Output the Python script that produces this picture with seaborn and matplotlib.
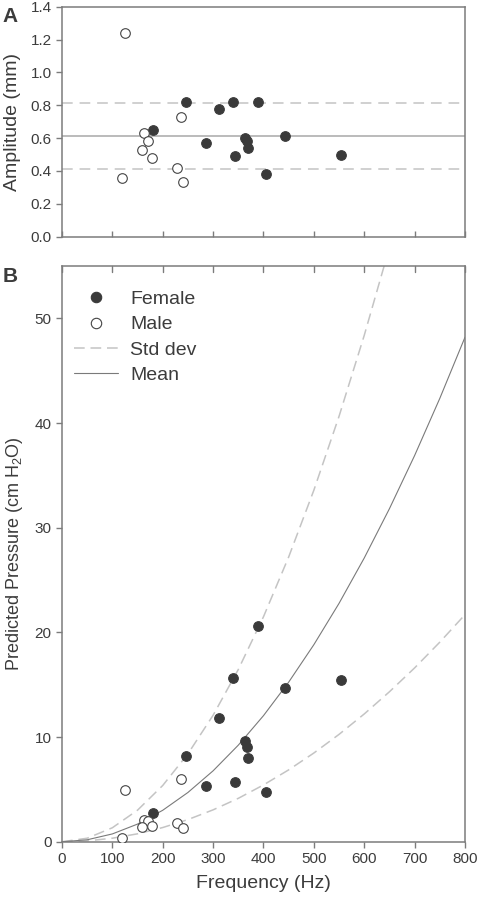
import numpy as np
import pandas as pd
import matplotlib
matplotlib.use("Agg")
import matplotlib.pyplot as plt
from matplotlib.lines import Line2D
import seaborn as sns

# ---------------- data ----------------
freq_female = [181, 247, 286, 311, 340, 344, 364, 367, 370, 390, 404, 443, 554]
amp_female = [0.65, 0.82, 0.57, 0.78, 0.82, 0.49, 0.60, 0.58, 0.54, 0.82, 0.38, 0.61, 0.50]
press_female = [2.74, 8.22, 5.32, 11.85, 15.6, 5.74, 9.6, 9.08, 8.03, 20.65, 4.72, 14.7, 15.5]

freq_male = [125, 120, 162, 171, 159.5, 179, 236, 229, 241]
amp_male = [1.24, 0.36, 0.63, 0.58, 0.53, 0.48, 0.73, 0.42, 0.33]
press_male = [4.9, 0.35, 2.07, 1.94, 1.43, 1.46, 5.96, 1.82, 1.27]

amp_mean = 0.61
amp_sd_low = 0.41
amp_sd_high = 0.815

curve_freq = [0, 50, 100, 150, 200, 250, 300, 350, 400, 450, 500, 550, 600, 650, 700, 750, 800]
curve_mean = [0, 0.19, 0.75, 1.69, 3.01, 4.71, 6.78, 9.23, 12.05, 15.25, 18.83, 22.78, 27.11, 31.82, 36.90, 42.36, 48.2]
curve_upper = [0, 0.34, 1.34, 3.02, 5.38, 8.40, 12.09, 16.46, 21.5, 27.21, 33.59, 40.65, 48.38, 56.77, 65.84, 75.58, 86.0]
curve_lower = [0, 0.085, 0.34, 0.76, 1.36, 2.12, 3.05, 4.15, 5.43, 6.87, 8.48, 10.26, 12.21, 14.33, 16.61, 19.07, 21.7]

x_ticks = [0, 100, 200, 300, 400, 500, 600, 700, 800]
amp_ticks = [0.0, 0.2, 0.4, 0.6, 0.8, 1.0, 1.2, 1.4]
press_ticks = [0, 10, 20, 30, 40, 50]

# ---------------- style ----------------
sns.set_style("ticks")
plt.rcParams['font.family'] = ['Liberation Sans', 'DejaVu Sans']
plt.rcParams['mathtext.fontset'] = 'custom'
plt.rcParams['mathtext.rm'] = 'Liberation Sans'

TXT = '#3c3c3c'
SPINE = '#7c7c7c'
FEM = '#3a3a3a'
SD_COL = '#c4c4c4'
MEAN_TOP = '#a8a8a8'
MEAN_BOT = '#7a7a7a'

df_f = pd.DataFrame({'freq': freq_female, 'amp': amp_female, 'press': press_female})
df_m = pd.DataFrame({'freq': freq_male, 'amp': amp_male, 'press': press_male})
df_c = pd.DataFrame({'freq': curve_freq, 'mean': curve_mean, 'upper': curve_upper, 'lower': curve_lower})

fig = plt.figure(figsize=(4.78, 9.0), dpi=100)
axA = fig.add_axes([0.1297, 0.737, 0.8431, 0.2556])
axB = fig.add_axes([0.1297, 0.0647, 0.8431, 0.6397])

def style_axes(ax):
    for s in ax.spines.values():
        s.set_color(SPINE)
        s.set_linewidth(1.1)
        s.set_visible(True)
    ax.tick_params(colors=SPINE, labelcolor=TXT, labelsize=11, width=1.0, length=4)

msize = 48
# ---------------- panel A ----------------
style_axes(axA)
axA.axhline(amp_sd_high, color=SD_COL, lw=1.1, linestyle=(0, (7, 4.5)), zorder=1)
axA.axhline(amp_sd_low, color=SD_COL, lw=1.1, linestyle=(0, (7, 4.5)), zorder=1)
axA.axhline(amp_mean, color=MEAN_TOP, lw=1.1, zorder=1)
sns.scatterplot(data=df_f, x='freq', y='amp', ax=axA, s=msize, color=FEM,
                edgecolor=FEM, linewidth=0.8, zorder=3, legend=False)
sns.scatterplot(data=df_m, x='freq', y='amp', ax=axA, s=msize, facecolor='white',
                edgecolor='#444444', linewidth=0.8, zorder=3, legend=False)
axA.set_xlim(0, 800)
axA.set_ylim(0, 1.4)
axA.set_xticks(x_ticks)
axA.set_xticklabels([])
axA.set_yticks(amp_ticks)
axA.set_yticklabels([f"{v:.1f}" for v in amp_ticks])
axA.tick_params(axis='x', direction='in', bottom=True, top=False)
axA.tick_params(axis='y', direction='out', left=True, right=False)
axA.set_xlabel('')
axA.set_ylabel('Amplitude (mm)', fontsize=14, color=TXT, labelpad=7)
fig.text(0.005, 0.992, 'A', fontsize=15, fontweight='bold', color=TXT, va='top', ha='left')

# ---------------- panel B ----------------
style_axes(axB)
sns.lineplot(data=df_c, x='freq', y='upper', ax=axB, color=SD_COL, lw=1.1,
             linestyle=(0, (7, 3.8)), zorder=1)
sns.lineplot(data=df_c, x='freq', y='lower', ax=axB, color=SD_COL, lw=1.1,
             linestyle=(0, (7, 3.8)), zorder=1)
sns.lineplot(data=df_c, x='freq', y='mean', ax=axB, color=MEAN_BOT, lw=0.8, zorder=2)
sns.scatterplot(data=df_f, x='freq', y='press', ax=axB, s=msize, color=FEM,
                edgecolor=FEM, linewidth=0.8, zorder=3, legend=False)
sns.scatterplot(data=df_m, x='freq', y='press', ax=axB, s=msize, facecolor='white',
                edgecolor='#444444', linewidth=0.8, zorder=3, legend=False)
axB.set_xlim(0, 800)
axB.set_ylim(0, 55)
axB.set_xticks(x_ticks)
axB.set_xticklabels([str(v) for v in x_ticks])
axB.set_yticks(press_ticks)
axB.tick_params(axis='x', direction='out', bottom=True, top=False)
axB.tick_params(axis='y', direction='out', left=True, right=False)
for xt in x_ticks:
    axB.plot([xt, xt], [55, 55 - 0.55], color=SPINE, lw=1.0, clip_on=False, zorder=5)
axB.set_xlabel('Frequency (Hz)', fontsize=14, color=TXT, labelpad=6)
axB.set_ylabel('Predicted Pressure (cm H$_\\mathregular{2}$O)', fontsize=13, color=TXT, labelpad=7)
fig.text(0.005, 0.703, 'B', fontsize=15, fontweight='bold', color=TXT, va='top', ha='left')

handles = [
    Line2D([], [], marker='o', linestyle='none', markersize=7.5, markerfacecolor=FEM,
           markeredgecolor=FEM, markeredgewidth=0.8),
    Line2D([], [], marker='o', linestyle='none', markersize=7.5, markerfacecolor='white',
           markeredgecolor='#444444', markeredgewidth=0.8),
    Line2D([], [], color=SD_COL, lw=1.1, linestyle=(0, (7, 3.8))),
    Line2D([], [], color=MEAN_BOT, lw=0.8),
]
leg = axB.legend(handles, ['Female', 'Male', 'Std dev', 'Mean'], loc='upper left',
                 frameon=False, fontsize=14, handlelength=2.3, handletextpad=0.6,
                 labelspacing=0.4, borderaxespad=0.2, bbox_to_anchor=(0.0, 0.978))
for t in leg.get_texts():
    t.set_color(TXT)

fig.savefig('out.png', dpi=100)
